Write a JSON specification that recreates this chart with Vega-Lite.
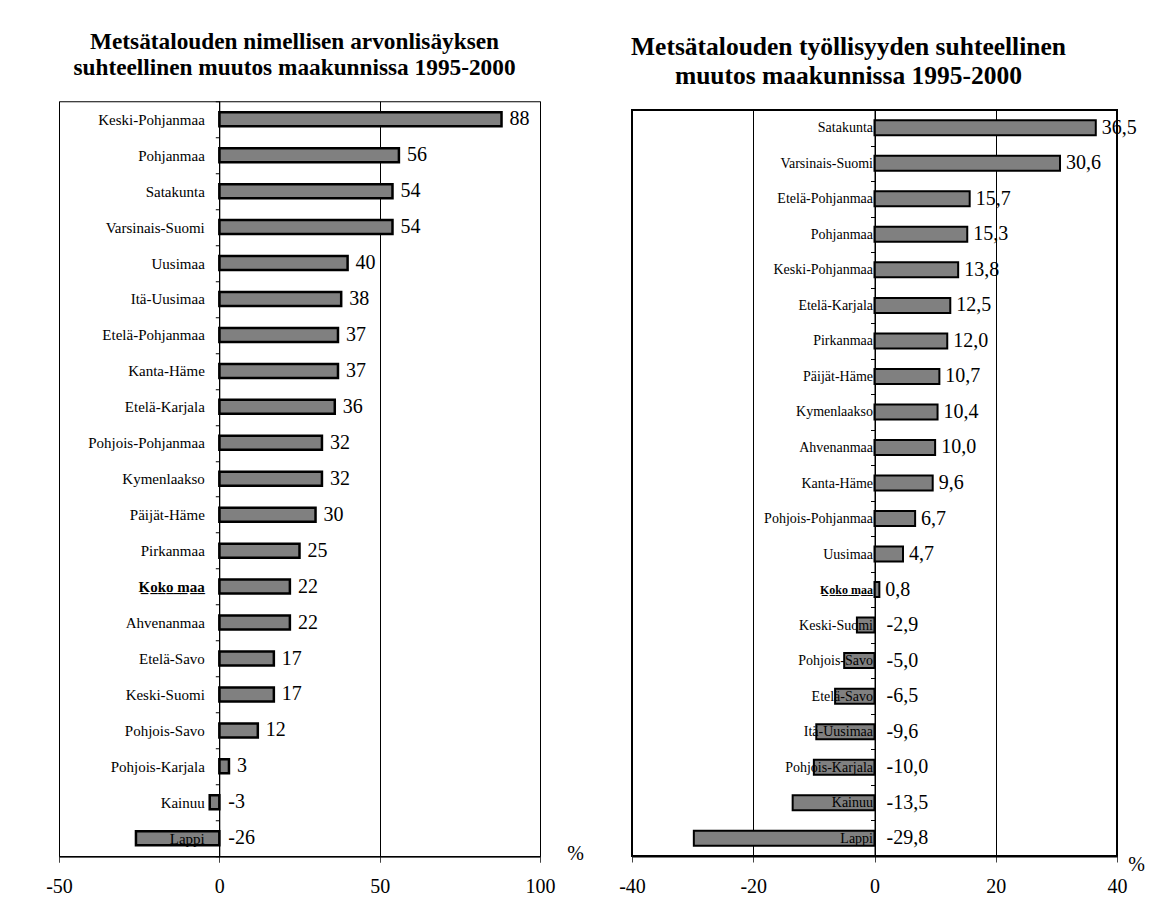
{
  "$schema": "https://vega.github.io/schema/vega-lite/v6.json",
  "background": "white",
  "padding": {"left": 45, "top": 29, "right": 5, "bottom": 5},
  "spacing": 33,
  "center": true,
  "config": {
    "font": "Liberation Serif",
    "locale": {"number": {"decimal": ",", "thousands": "\u00a0", "grouping": [3], "currency": ["", "\u00a0€"], "minus": "-"}},
    "title": {"font": "Liberation Serif", "fontWeight": "bold", "color": "black", "anchor": "middle"},
    "axis": {"labelFont": "Liberation Serif", "labelColor": "black", "titleFont": "Liberation Serif", "titleColor": "black", "domainColor": "black", "tickColor": "black"}
  },
  "datasets": {
    "arvo": [
      {"alue": "Keski-Pohjanmaa", "muutos": 88},
      {"alue": "Pohjanmaa", "muutos": 56},
      {"alue": "Satakunta", "muutos": 54},
      {"alue": "Varsinais-Suomi", "muutos": 54},
      {"alue": "Uusimaa", "muutos": 40},
      {"alue": "Itä-Uusimaa", "muutos": 38},
      {"alue": "Etelä-Pohjanmaa", "muutos": 37},
      {"alue": "Kanta-Häme", "muutos": 37},
      {"alue": "Etelä-Karjala", "muutos": 36},
      {"alue": "Pohjois-Pohjanmaa", "muutos": 32},
      {"alue": "Kymenlaakso", "muutos": 32},
      {"alue": "Päijät-Häme", "muutos": 30},
      {"alue": "Pirkanmaa", "muutos": 25},
      {"alue": "Koko maa", "muutos": 22},
      {"alue": "Ahvenanmaa", "muutos": 22},
      {"alue": "Etelä-Savo", "muutos": 17},
      {"alue": "Keski-Suomi", "muutos": 17},
      {"alue": "Pohjois-Savo", "muutos": 12},
      {"alue": "Pohjois-Karjala", "muutos": 3},
      {"alue": "Kainuu", "muutos": -3},
      {"alue": "Lappi", "muutos": -26}
    ],
    "tyo": [
      {"alue": "Satakunta", "muutos": 36.5},
      {"alue": "Varsinais-Suomi", "muutos": 30.6},
      {"alue": "Etelä-Pohjanmaa", "muutos": 15.7},
      {"alue": "Pohjanmaa", "muutos": 15.3},
      {"alue": "Keski-Pohjanmaa", "muutos": 13.8},
      {"alue": "Etelä-Karjala", "muutos": 12.5},
      {"alue": "Pirkanmaa", "muutos": 12.0},
      {"alue": "Päijät-Häme", "muutos": 10.7},
      {"alue": "Kymenlaakso", "muutos": 10.4},
      {"alue": "Ahvenanmaa", "muutos": 10.0},
      {"alue": "Kanta-Häme", "muutos": 9.6},
      {"alue": "Pohjois-Pohjanmaa", "muutos": 6.7},
      {"alue": "Uusimaa", "muutos": 4.7},
      {"alue": "Koko maa", "muutos": 0.8},
      {"alue": "Keski-Suomi", "muutos": -2.9},
      {"alue": "Pohjois-Savo", "muutos": -5.0},
      {"alue": "Etelä-Savo", "muutos": -6.5},
      {"alue": "Itä-Uusimaa", "muutos": -9.6},
      {"alue": "Pohjois-Karjala", "muutos": -10.0},
      {"alue": "Kainuu", "muutos": -13.5},
      {"alue": "Lappi", "muutos": -29.8}
    ]
  },
  "hconcat": [
    {
      "width": 481,
      "height": 755,
      "title": {"text": ["Metsätalouden nimellisen arvonlisäyksen", "suhteellinen muutos maakunnissa 1995-2000"], "offset": 14, "fontSize": 23.3, "lineHeight": 26, "dx": -5},
      "data": {"name": "arvo"},
      "view": {"stroke": "black", "strokeWidth": 1},
      "encoding": {
        "y": {
          "field": "alue", "type": "nominal", "sort": null,
          "scale": {"paddingInner": 0, "paddingOuter": 0},
          "axis": {
            "title": null, "offset": -160.3, "zindex": 1,
            "domain": true, "domainWidth": 1, "ticks": true, "tickBand": "extent", "tickSize": 4, "tickWidth": 1,
            "labelFontSize": 15, "labelPadding": 11,
            "labelFontWeight": {"condition": {"test": "datum.value === 'Koko maa'", "value": "bold"}, "value": "normal"},
            "labelExpr": "datum.value === 'Koko maa' ? 'K\u0332o\u0332k\u0332o\u0332 \u0332m\u0332a\u0332a\u0332' : datum.value"
          }
        }
      },
      "layer": [
        {
          "mark": {"type": "bar", "fill": "#808080", "stroke": "black", "strokeWidth": 2.5, "size": 14},
          "encoding": {
            "x": {
              "field": "muutos", "type": "quantitative",
              "scale": {"domain": [-50, 100], "nice": false, "zero": false},
              "axis": {
                "title": "%", "values": [-50, 0, 50, 100], "grid": true, "gridColor": "black", "gridWidth": 1,
                "domainWidth": 1.5, "tickSize": 6, "tickColor": "#444", "labelFontSize": 20, "labelPadding": 14, "labelFlush": false,
                "labelExpr": "[datum.label, '']", "labelLineHeight": 9,
                "titleFontSize": 20, "titleFontWeight": "normal", "titleX": 516, "titleY": -3, "titleAlign": "center", "titleBaseline": "middle"
              }
            }
          }
        },
        {
          "transform": [{"filter": "datum.muutos >= 0"}],
          "mark": {"type": "text", "align": "left", "baseline": "middle", "dx": 8, "fontSize": 20, "font": "Liberation Serif", "color": "black"},
          "encoding": {
            "x": {"field": "muutos", "type": "quantitative", "title": "%"},
            "text": {"field": "muutos", "type": "quantitative", "format": "d"}
          }
        },
        {
          "transform": [{"filter": "datum.muutos < 0"}],
          "mark": {"type": "text", "align": "left", "baseline": "middle", "dx": 9, "fontSize": 20, "font": "Liberation Serif", "color": "black"},
          "encoding": {
            "x": {"datum": 0, "type": "quantitative", "title": "%"},
            "text": {"field": "muutos", "type": "quantitative", "format": "d"}
          }
        }
      ]
    },
    {
      "width": 485,
      "height": 746,
      "title": {"text": ["Metsätalouden työllisyyden suhteellinen", "muutos maakunnissa 1995-2000"], "offset": 14, "fontSize": 25.5, "lineHeight": 29, "dx": -26},
      "data": {"name": "tyo"},
      "view": {"stroke": "black", "strokeWidth": 2},
      "encoding": {
        "y": {
          "field": "alue", "type": "nominal", "sort": null,
          "scale": {"paddingInner": 0, "paddingOuter": 0},
          "axis": {
            "title": null, "offset": -242.5, "zindex": 1,
            "domain": true, "domainWidth": 1, "ticks": true, "tickBand": "extent", "tickSize": 4, "tickWidth": 1,
            "labelFontSize": {"condition": {"test": "datum.value === 'Koko maa'", "value": 12}, "value": 14},
            "labelPadding": -2,
            "labelFontWeight": {"condition": {"test": "datum.value === 'Koko maa'", "value": "bold"}, "value": "normal"},
            "labelExpr": "datum.value === 'Koko maa' ? 'K\u0332o\u0332k\u0332o\u0332 \u0332m\u0332a\u0332a\u0332' : datum.value"
          }
        }
      },
      "layer": [
        {
          "mark": {"type": "bar", "fill": "#808080", "stroke": "black", "strokeWidth": 2, "size": 15},
          "encoding": {
            "x": {
              "field": "muutos", "type": "quantitative",
              "scale": {"domain": [-40, 40], "nice": false, "zero": false},
              "axis": {
                "title": "%", "values": [-40, -20, 0, 20, 40], "grid": true, "gridColor": "black", "gridWidth": 1,
                "domainWidth": 2, "tickSize": 6, "tickColor": "#444", "labelFontSize": 20, "labelPadding": 14, "labelFlush": false,
                "titleFontSize": 20, "titleFontWeight": "normal", "titleX": 504, "titleY": 8, "titleAlign": "center", "titleBaseline": "middle"
              }
            }
          }
        },
        {
          "transform": [{"filter": "datum.muutos >= 0"}],
          "mark": {"type": "text", "align": "left", "baseline": "middle", "dx": 6, "fontSize": 20, "font": "Liberation Serif", "color": "black"},
          "encoding": {
            "x": {"field": "muutos", "type": "quantitative", "title": "%"},
            "text": {"field": "muutos", "type": "quantitative", "format": ".1f"}
          }
        },
        {
          "transform": [{"filter": "datum.muutos < 0"}],
          "mark": {"type": "text", "align": "left", "baseline": "middle", "dx": 12, "fontSize": 20, "font": "Liberation Serif", "color": "black"},
          "encoding": {
            "x": {"datum": 0, "type": "quantitative", "title": "%"},
            "text": {"field": "muutos", "type": "quantitative", "format": ".1f"}
          }
        }
      ]
    }
  ]
}
